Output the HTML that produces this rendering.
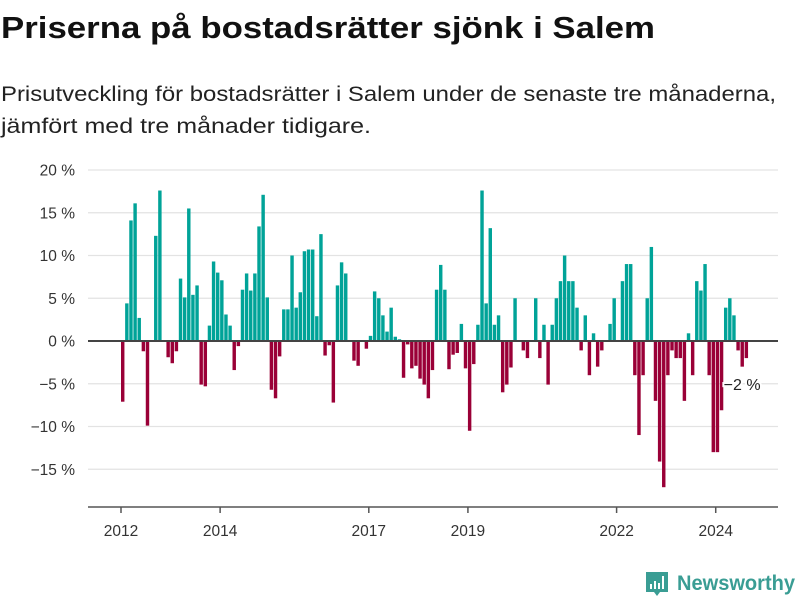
<!DOCTYPE html>
<html><head><meta charset="utf-8">
<style>
html,body{margin:0;padding:0;background:#fff;width:800px;height:600px;overflow:hidden}
svg{display:block;font-family:"Liberation Sans","DejaVu Sans",sans-serif}
</style></head>
<body>
<svg id="chart" width="800" height="600" viewBox="0 0 800 600">
<text x="1" y="38" font-size="31" font-weight="bold" fill="#111" textLength="654" lengthAdjust="spacingAndGlyphs">Priserna på bostadsrätter sjönk i Salem</text>
<text x="1" y="101" font-size="21" fill="#222" textLength="775" lengthAdjust="spacingAndGlyphs">Prisutveckling för bostadsrätter i Salem under de senaste tre månaderna,</text>
<text x="1" y="133" font-size="21" fill="#222" textLength="370" lengthAdjust="spacingAndGlyphs">jämfört med tre månader tidigare.</text>
<g id="grid"></g>
<g id="bars"></g>
<g id="axes"></g>
<g>
<path d="M646 572 h22 v20 h-8 l-3 4 l-3 -4 h-8 z" fill="#3a9d94"/>
<rect x="650" y="584" width="2" height="5" fill="#fff"/>
<rect x="654" y="581" width="2" height="8" fill="#fff"/>
<rect x="658" y="583" width="2" height="6" fill="#fff"/>
<rect x="662" y="576" width="2" height="13" fill="#fff"/>
<text x="677" y="590" font-size="21" fill="#3a9d94" font-weight="bold" textLength="118" lengthAdjust="spacingAndGlyphs">Newsworthy</text>
</g>
</svg>
<script>
const yTicks = [20, 15, 10, 5, 0, -5, -10, -15];
const yearLabels = ["2012", "2014", "2017", "2019", "2022", "2024"];
const yearMonthIndex = [0, 24, 60, 84, 120, 144];
const startYear = 2012;
const values = [
-7.1,4.4,14.1,16.1,2.7,-1.2,-9.9,0,12.3,17.6,0,-1.9,
-2.6,-1.2,7.3,5.1,15.5,5.4,6.5,-5.1,-5.3,1.8,9.3,8.0,
7.1,3.1,1.8,-3.4,-0.6,6.0,7.9,5.9,7.9,13.4,17.1,5.1,
-5.7,-6.7,-1.8,3.7,3.7,10.0,3.9,5.7,10.5,10.7,10.7,2.9,
12.5,-1.7,-0.5,-7.2,6.5,9.2,7.9,0,-2.3,-2.9,0,-0.9,
0.6,5.8,5.0,3.0,1.1,3.9,0.5,0.2,-4.3,-0.4,-3.2,-2.9,
-4.4,-5.1,-6.7,-3.4,6.0,8.9,6.0,-3.3,-1.6,-1.4,2.0,-3.2,
-10.5,-2.7,1.9,17.6,4.4,13.2,1.9,3.0,-6.0,-5.1,-3.1,5.0,
0,-1.1,-2.0,0,5.0,-2.0,1.9,-5.1,1.9,5.0,7.0,10.0,
7.0,7.0,3.9,-1.1,3.0,-4.0,0.9,-3.0,-1.1,0,2.0,5.0,
0,7.0,9.0,9.0,-4.0,-11.0,-4.0,5.0,11.0,-7.0,-14.1,-17.1,
-4.0,-1.1,-2.0,-2.0,-7.0,0.9,-4.0,7.0,5.9,9.0,-4.0,-13.0,
-13.0,-8.1,3.9,5.0,3.0,-1.1,-3.0,-2.0
];
const lastLabel = "−2 %";

const NS = "http://www.w3.org/2000/svg";
const X0 = 121, STEP = 4.13, Y0 = 341, PX = 8.55;
const PLOT_L = 88, PLOT_R = 778, AXIS_Y = 507;
function xScale(i){ return X0 + i * STEP; }
function yScale(v){ return Y0 - v * PX; }
function mk(tag, attrs){ const e = document.createElementNS(NS, tag); for (const k in attrs) e.setAttribute(k, attrs[k]); return e; }

const grid = document.getElementById('grid');
yTicks.forEach(t => {
  const y = yScale(t);
  if (t !== 0) {
    const l = mk('line', {x1: PLOT_L, x2: PLOT_R, y1: y, y2: y, stroke: '#e3e3e3', 'stroke-width': 1.3});
    
    
    grid.appendChild(l);
  }
  const tx = mk('text', {x: 75, y: y + 5.5, 'font-size': 15.5, fill: '#333', 'text-anchor': 'end'});
  tx.textContent = (t < 0 ? '−' + Math.abs(t) : t) + ' %';
  
  
  grid.appendChild(tx);
});

const bars = document.getElementById('bars');
values.forEach((v, i) => {
  if (v === 0) return;
  const y1 = yScale(Math.max(v, 0)), y2 = yScale(Math.min(v, 0));
  const r = mk('rect', {x: xScale(i), y: y1, width: STEP - 0.7, height: y2 - y1, fill: v > 0 ? '#00a398' : '#9a0037'});
  
  
  bars.appendChild(r);
});

const axes = document.getElementById('axes');
const zl = mk('line', {x1: PLOT_L, x2: PLOT_R, y1: Y0, y2: Y0, stroke: '#444', 'stroke-width': 2});


axes.appendChild(zl);
const xa = mk('line', {x1: PLOT_L, x2: PLOT_R, y1: AXIS_Y, y2: AXIS_Y, stroke: '#555', 'stroke-width': 1.5});


axes.appendChild(xa);
yearLabels.forEach((lab, k) => {
  const x = xScale(yearMonthIndex[k]);
  const tk = mk('line', {x1: x, x2: x, y1: AXIS_Y, y2: AXIS_Y + 6, stroke: '#555', 'stroke-width': 1.5});
  
  
  axes.appendChild(tk);
  const t = mk('text', {x: x, y: 536, 'font-size': 15.5, fill: '#333', 'text-anchor': 'middle'});
  t.textContent = lab;
  
  
  axes.appendChild(t);
});
const li = values.length - 1;
const lbl = mk('text', {x: xScale(li) - 21, y: yScale(values[li]) + 32, 'font-size': 16, fill: '#222', stroke: '#fff', 'stroke-width': 4, 'paint-order': 'stroke'});
lbl.textContent = lastLabel;


axes.appendChild(lbl);
</script>
</body></html>
